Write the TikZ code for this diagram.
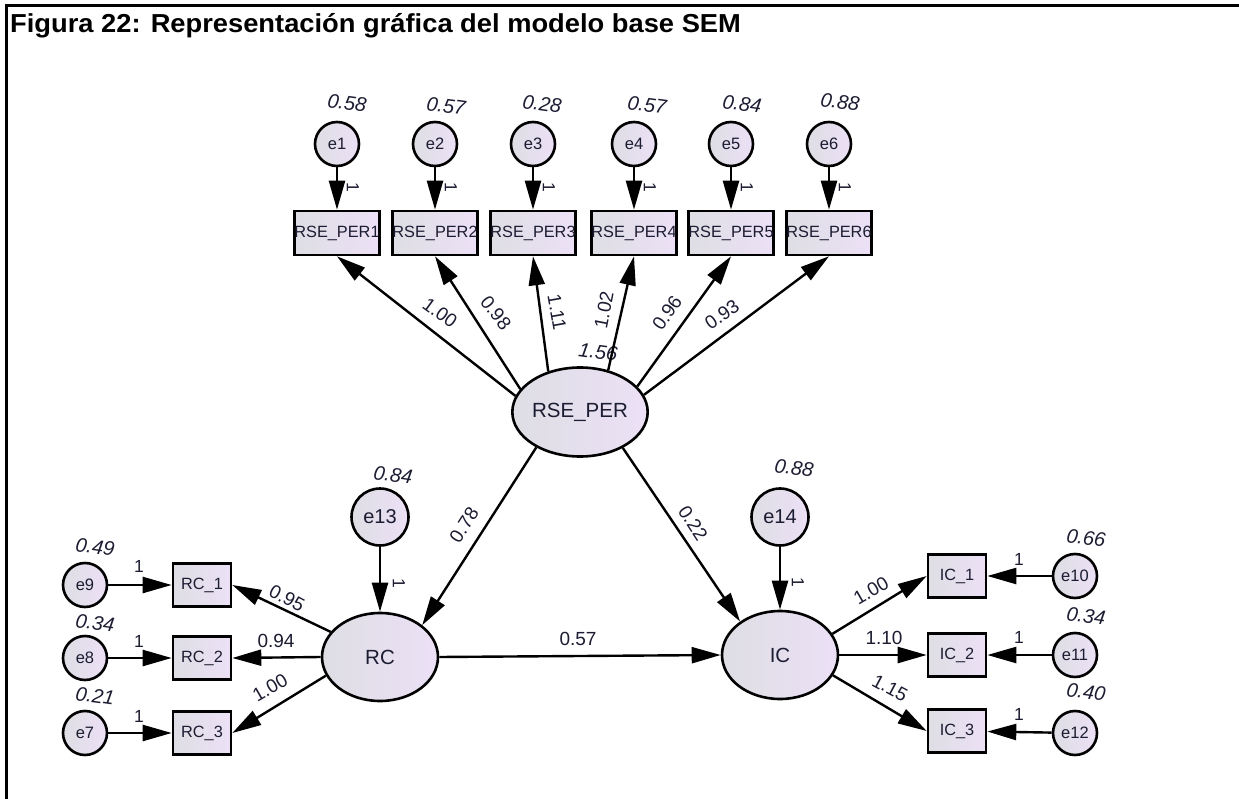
\documentclass[tikz,border=0pt]{standalone}
\usepackage{fontspec}
\setmainfont{Liberation Sans}
\newfontfamily\titlefont{Liberation Sans}[FakeStretch=1.05]
\usetikzlibrary{arrows.meta,shapes.geometric}
\definecolor{nodeL}{RGB}{222,222,228}
\definecolor{nodeR}{RGB}{236,224,246}
\definecolor{txt}{RGB}{28,28,50}
\begin{document}
\begin{tikzpicture}[x=1pt,y=-1pt,
  obs/.style={draw,line width=2.6pt,rectangle,minimum width=58pt,minimum height=44pt,inner sep=0pt,left color=nodeL,right color=nodeR,text=txt,font=\fontsize{16.3}{17}\selectfont},
  err/.style={draw,line width=2.6pt,circle,minimum size=44pt,inner sep=0pt,left color=nodeL,right color=nodeR,text=txt,font=\fontsize{16.5}{17}\selectfont},
  bigerr/.style={err,minimum size=57pt,font=\fontsize{20}{20}\selectfont},
  lat/.style={draw,line width=2.6pt,ellipse,minimum width=116pt,minimum height=89pt,inner sep=0pt,left color=nodeL,right color=nodeR,text=txt,font=\fontsize{20.5}{20.5}\selectfont},
  arr/.style={line width=2.4pt,-{Triangle[length=29pt,width=16pt]}},
  var/.style={text=txt,font=\fontsize{20}{20}\selectfont\itshape,inner sep=0pt},
  est/.style={text=txt,font=\fontsize{19}{19}\selectfont,inner sep=0pt},
  one/.style={text=txt,font=\fontsize{17.5}{17.5}\selectfont,inner sep=0pt},
]
\useasboundingbox[fill=white] (0,0) rectangle (1239,799);
\draw[line width=3pt] (6,799) -- (6,6) -- (1239,6);
\node[anchor=base west,inner sep=0pt,font=\fontsize{26}{26}\titlefont\bfseries] (title) at (10,33) {Figura 22: Representación gráfica del modelo base SEM};

% top indicators
\foreach \i/\x in {1/337,2/435,3/533,4/634,5/731,6/829}{
  \node[obs] (p\i) at (\x,233) {RSE\_PER\i};
  \node[err] (e\i) at (\x,144) {e\i};
  \node[one,rotate=-90] (o\i) at (\x+16,187) {1};
}
\node[var,rotate=-8] (v1) at (347,103) {0.58};
\node[var,rotate=-8] (v2) at (446,106) {0.57};
\node[var,rotate=-8] (v3) at (542,104) {0.28};
\node[var,rotate=-8] (v4) at (647,105) {0.57};
\node[var,rotate=-8] (v5) at (742,104) {0.84};
\node[var,rotate=-8] (v6) at (840,102) {0.88};

% latent
\node[lat] (rse) at (580,412) {RSE\_PER};
\node[lat,minimum height=88pt] (rc) at (380,657) {RC};
\node[lat,minimum height=88pt] (ic) at (780,655) {IC};
\node[var,rotate=-8] (v156) at (598,352) {1.56};

% disturbances
\node[bigerr] (e13) at (380,517) {e13};
\node[bigerr] (e14) at (780,517) {e14};
\node[var,rotate=-8] (v13) at (393,475) {0.84};
\node[var,rotate=-8] (v14) at (794,468) {0.88};
\node[one,rotate=-90] (o13) at (399,583) {1};
\node[one,rotate=-90] (o14) at (798,582) {1};

% RC indicators
\node[obs,minimum height=43pt] (rc1) at (202,585) {RC\_1};
\node[obs,minimum height=43pt] (rc2) at (202,658) {RC\_2};
\node[obs,minimum height=43pt] (rc3) at (202,733) {RC\_3};
\node[err] (e9) at (85,585) {e9};
\node[err] (e8) at (85,658) {e8};
\node[err] (e7) at (85,733) {e7};
\node[var,rotate=-8] (v9) at (95,547) {0.49};
\node[var,rotate=-8] (v8) at (95,623) {0.34};
\node[var,rotate=-8] (v7) at (95,696) {0.21};
\node[one] (o9) at (139,566) {1};
\node[one] (o8) at (139,641) {1};
\node[one] (o7) at (139,716) {1};

% IC indicators
\node[obs,minimum height=43pt] (ic1) at (957,576) {IC\_1};
\node[obs,minimum height=43pt] (ic2) at (957,655) {IC\_2};
\node[obs,minimum height=43pt] (ic3) at (957,731) {IC\_3};
\node[err] (e10) at (1075,576) {e10};
\node[err] (e11) at (1075,655) {e11};
\node[err] (e12) at (1075,733) {e12};
\node[var,rotate=-8] (v10) at (1086,538) {0.66};
\node[var,rotate=-8] (v11) at (1086,616) {0.34};
\node[var,rotate=-8] (v12) at (1086,692) {0.40};
\node[one] (o10) at (1019,559) {1};
\node[one] (o11) at (1019,637) {1};
\node[one] (o12) at (1019,714) {1};

% connectors
\foreach \i in {1,...,6}{\draw[arr] (e\i) -- (p\i);}
\draw[arr] (rse.166) -- (p1.south);
\draw[arr] (rse.159) -- (p2.south);
\draw[arr] (rse.128) -- (p3.south);
\draw[arr] (rse.56) -- (p4.south);
\draw[arr] (rse.24) -- (p5.south);
\draw[arr] (rse.15) -- (p6.south);
\draw[arr] (rse.219) -- (rc.37);
\draw[arr] (rse.320) -- (ic.140);
\draw[arr] (rc.east) -- (ic.west);
\draw[arr] (e13) -- (rc);
\draw[arr] (e14) -- (ic);
\draw[arr] (rc.153) -- (rc1.east);
\draw[arr] (rc.180) -- (rc2.east);
\draw[arr] (rc.199) -- (rc3.east);
\draw[arr] (ic.22) -- (ic1.west);
\draw[arr] (ic.0) -- (ic2.west);
\draw[arr] (ic.-21) -- (ic3.west);
\draw[arr] (e9) -- (rc1);
\draw[arr] (e8) -- (rc2);
\draw[arr] (e7) -- (rc3);
\draw[arr] (e10) -- (ic1);
\draw[arr] (e11) -- (ic2);
\draw[arr] (e12) -- (ic3);

% path estimates
\node[est,rotate=-36] (l1) at (440,313) {1.00};
\node[est,rotate=-52] (l2) at (496,313) {0.98};
\node[est,rotate=-80] (l3) at (557,312) {1.11};
\node[est,rotate=79] (l4) at (604,310) {1.02};
\node[est,rotate=55] (l5) at (667,313) {0.96};
\node[est,rotate=35] (l6) at (722,315) {0.93};
\node[est,rotate=57] (l78) at (464,525) {0.78};
\node[est,rotate=-57] (l22) at (693,523) {0.22};
\node[est] (l57) at (578,639) {0.57};
\node[est,rotate=-28] (l95) at (287,598) {0.95};
\node[est] (l94) at (276,641) {0.94};
\node[est,rotate=30] (l100) at (270,688) {1.00};
\node[est,rotate=30] (li100) at (871,591) {1.00};
\node[est] (l110) at (884,638) {1.10};
\node[est,rotate=-28] (l115) at (890,688) {1.15};
\end{tikzpicture}
\end{document}
